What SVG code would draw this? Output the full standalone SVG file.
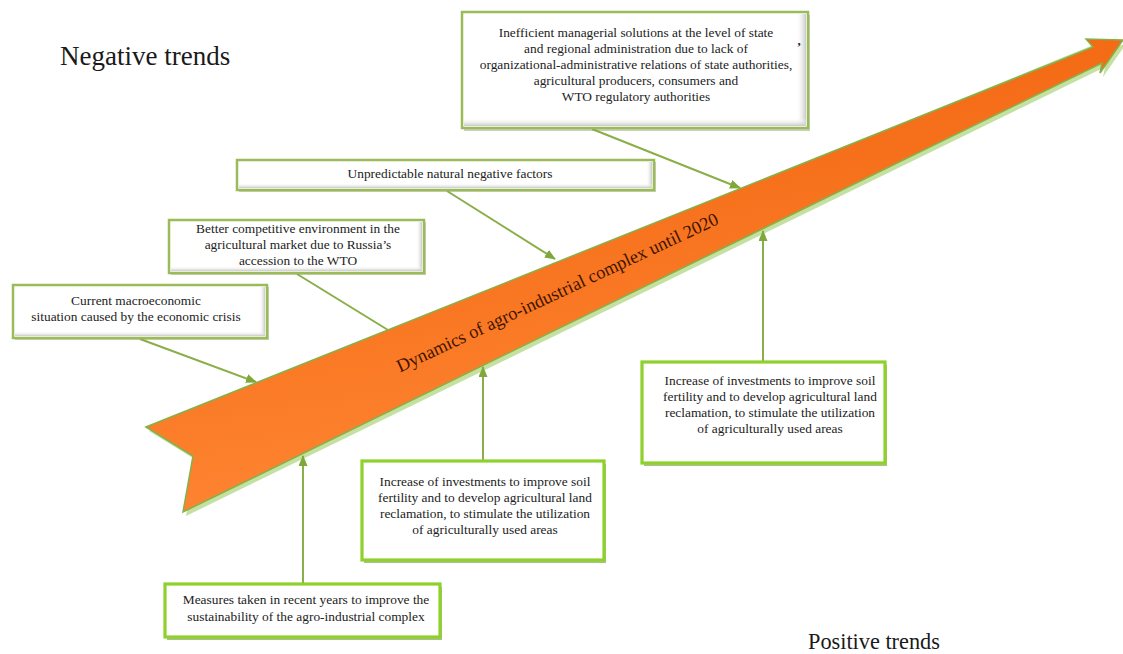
<svg xmlns="http://www.w3.org/2000/svg" width="1123" height="654" viewBox="0 0 1123 654">
<style>
.t{font-family:"Liberation Serif","Times New Roman",serif;font-size:13.4px;fill:#222;text-anchor:middle}
.neg .b{fill:none;stroke:#9bbb59;stroke-width:2.5}
.neg .sh{fill:#8a9a6a;opacity:0.45}
.pos .b{fill:none;stroke:#8ed12c;stroke-width:3.2}
.pos .sh{fill:#6f9a2e;opacity:0.6}
.bg{fill:#fff}
.conn line{stroke:#8aae48;stroke-width:2;fill:none}
.title{font-family:"Liberation Serif","Times New Roman",serif;fill:#1a1a1a}
</style>
<defs>
<linearGradient id="og" x1="0" y1="0" x2="0.3" y2="1">
<stop offset="0" stop-color="#f0600a"/>
<stop offset="1" stop-color="#ff8633"/>
</linearGradient>
<linearGradient id="gr" x1="0" y1="0" x2="1" y2="0">
<stop offset="0" stop-color="#fff" stop-opacity="0"/>
<stop offset="1" stop-color="#c8c8c8"/>
</linearGradient>
<linearGradient id="gb" x1="0" y1="0" x2="0" y2="1">
<stop offset="0" stop-color="#fff" stop-opacity="0"/>
<stop offset="1" stop-color="#c8c8c8"/>
</linearGradient>
<marker id="ah" markerUnits="userSpaceOnUse" markerWidth="11" markerHeight="9" refX="10" refY="4.5" orient="auto">
<path d="M0,0 L11,4.5 L0,9 z" fill="#7fa83a"/>
</marker>
</defs>
<rect width="1123" height="654" fill="#fff"/>

<text class="title" x="60" y="65" font-size="27">Negative trends</text>
<text class="title" x="808" y="649" font-size="22.3">Positive trends</text>

<g id="main-arrow">
<polygon points="149,431 196,460 186,516 1105,67 1103,77 1126,44 1096,51 1098,43 149,431" fill="#b5d98a" opacity="0.8"/>
<polygon points="146,427 193,456 183,512 1102,63 1100,73 1123,40 1086,39 1093,47" fill="url(#og)" stroke="#86b04a" stroke-width="1.5" stroke-linejoin="miter"/>
<text x="560" y="298" transform="rotate(-25 560 298)" font-family="Liberation Serif, Times New Roman, serif" font-size="18.3" fill="#3e1400" text-anchor="middle">Dynamics of agro-industrial complex until 2020</text>
</g>

<g id="connectors" class="conn">
<line x1="592" y1="129" x2="740" y2="188" marker-end="url(#ah)"/>
<line x1="447" y1="191" x2="555" y2="259" marker-end="url(#ah)"/>
<line x1="297" y1="274" x2="388" y2="330"/>
<line x1="140" y1="339" x2="256" y2="382" marker-end="url(#ah)"/>
<line x1="303" y1="583" x2="303" y2="456" marker-end="url(#ah)"/>
<line x1="483" y1="460" x2="483" y2="367" marker-end="url(#ah)"/>
<line x1="763" y1="361" x2="763" y2="231" marker-end="url(#ah)"/>
</g>

<g id="box-inefficient" class="neg">
<rect class="sh" x="464" y="15" width="346" height="116"/>
<rect class="bg" x="462" y="12" width="346" height="116"/>
<rect x="796" y="14" width="10" height="112" fill="url(#gr)"/>
<rect x="464" y="118" width="342" height="8" fill="url(#gb)"/>
<rect class="b" x="462" y="12" width="346" height="116"/>
<text class="t" x="636" y="37">Inefficient managerial solutions at the level of state</text>
<text class="t" x="636" y="53">and regional administration due to lack of</text>
<text class="t" x="636" y="69">organizational-administrative relations of state authorities,</text>
<text class="t" x="636" y="85">agricultural producers, consumers and</text>
<text class="t" x="636" y="101">WTO regulatory authorities</text>
<text class="t" x="799" y="51" font-size="17" font-weight="bold">’</text>
</g>

<g id="box-unpredictable" class="neg">
<rect class="sh" x="239" y="162" width="417" height="30"/>
<rect class="bg" x="237" y="160" width="417" height="30"/>
<rect x="646" y="162" width="6" height="26" fill="url(#gr)"/>
<rect x="239" y="183" width="413" height="5" fill="url(#gb)"/>
<rect class="b" x="237" y="160" width="417" height="30"/>
<text class="t" x="450" y="178">Unpredictable natural negative factors</text>
</g>

<g id="box-competitive" class="neg">
<rect class="sh" x="171" y="222" width="255" height="53"/>
<rect class="bg" x="169" y="220" width="255" height="53"/>
<rect x="416" y="222" width="6" height="49" fill="url(#gr)"/>
<rect x="171" y="266" width="251" height="5" fill="url(#gb)"/>
<rect class="b" x="169" y="220" width="255" height="53"/>
<text class="t" x="298" y="233">Better competitive environment in the</text>
<text class="t" x="298" y="249">agricultural market due to Russia’s</text>
<text class="t" x="298" y="265">accession to the WTO</text>
</g>

<g id="box-macro" class="neg">
<rect class="sh" x="15" y="287" width="254" height="53"/>
<rect class="bg" x="13" y="285" width="254" height="53"/>
<rect x="259" y="287" width="6" height="49" fill="url(#gr)"/>
<rect x="15" y="331" width="250" height="5" fill="url(#gb)"/>
<rect class="b" x="13" y="285" width="254" height="53"/>
<text class="t" x="136" y="305">Current macroeconomic</text>
<text class="t" x="136" y="321">situation caused by the economic crisis</text>
</g>

<g id="box-measures" class="pos">
<rect class="sh" x="167" y="587" width="275" height="53"/>
<rect class="bg" x="165" y="584" width="275" height="53"/>
<rect class="b" x="165" y="584" width="275" height="53"/>
<text class="t" x="306" y="604">Measures taken in recent years to improve the</text>
<text class="t" x="306" y="621">sustainability of the agro-industrial complex</text>
</g>

<g id="box-invest-1" class="pos">
<rect class="sh" x="364" y="464" width="242" height="99"/>
<rect class="bg" x="362" y="461" width="242" height="99"/>
<rect class="b" x="362" y="461" width="242" height="99"/>
<text class="t" x="485" y="486">Increase of investments to improve soil</text>
<text class="t" x="485" y="502">fertility and to develop agricultural land</text>
<text class="t" x="485" y="518">reclamation, to stimulate the utilization</text>
<text class="t" x="485" y="534">of agriculturally used areas</text>
</g>

<g id="box-invest-2" class="pos">
<rect class="sh" x="644" y="365" width="243" height="101"/>
<rect class="bg" x="642" y="362" width="243" height="101"/>
<rect class="b" x="642" y="362" width="243" height="101"/>
<text class="t" x="770" y="385">Increase of investments to improve soil</text>
<text class="t" x="770" y="401">fertility and to develop agricultural land</text>
<text class="t" x="770" y="417">reclamation, to stimulate the utilization</text>
<text class="t" x="770" y="433">of agriculturally used areas</text>
</g>
</svg>
